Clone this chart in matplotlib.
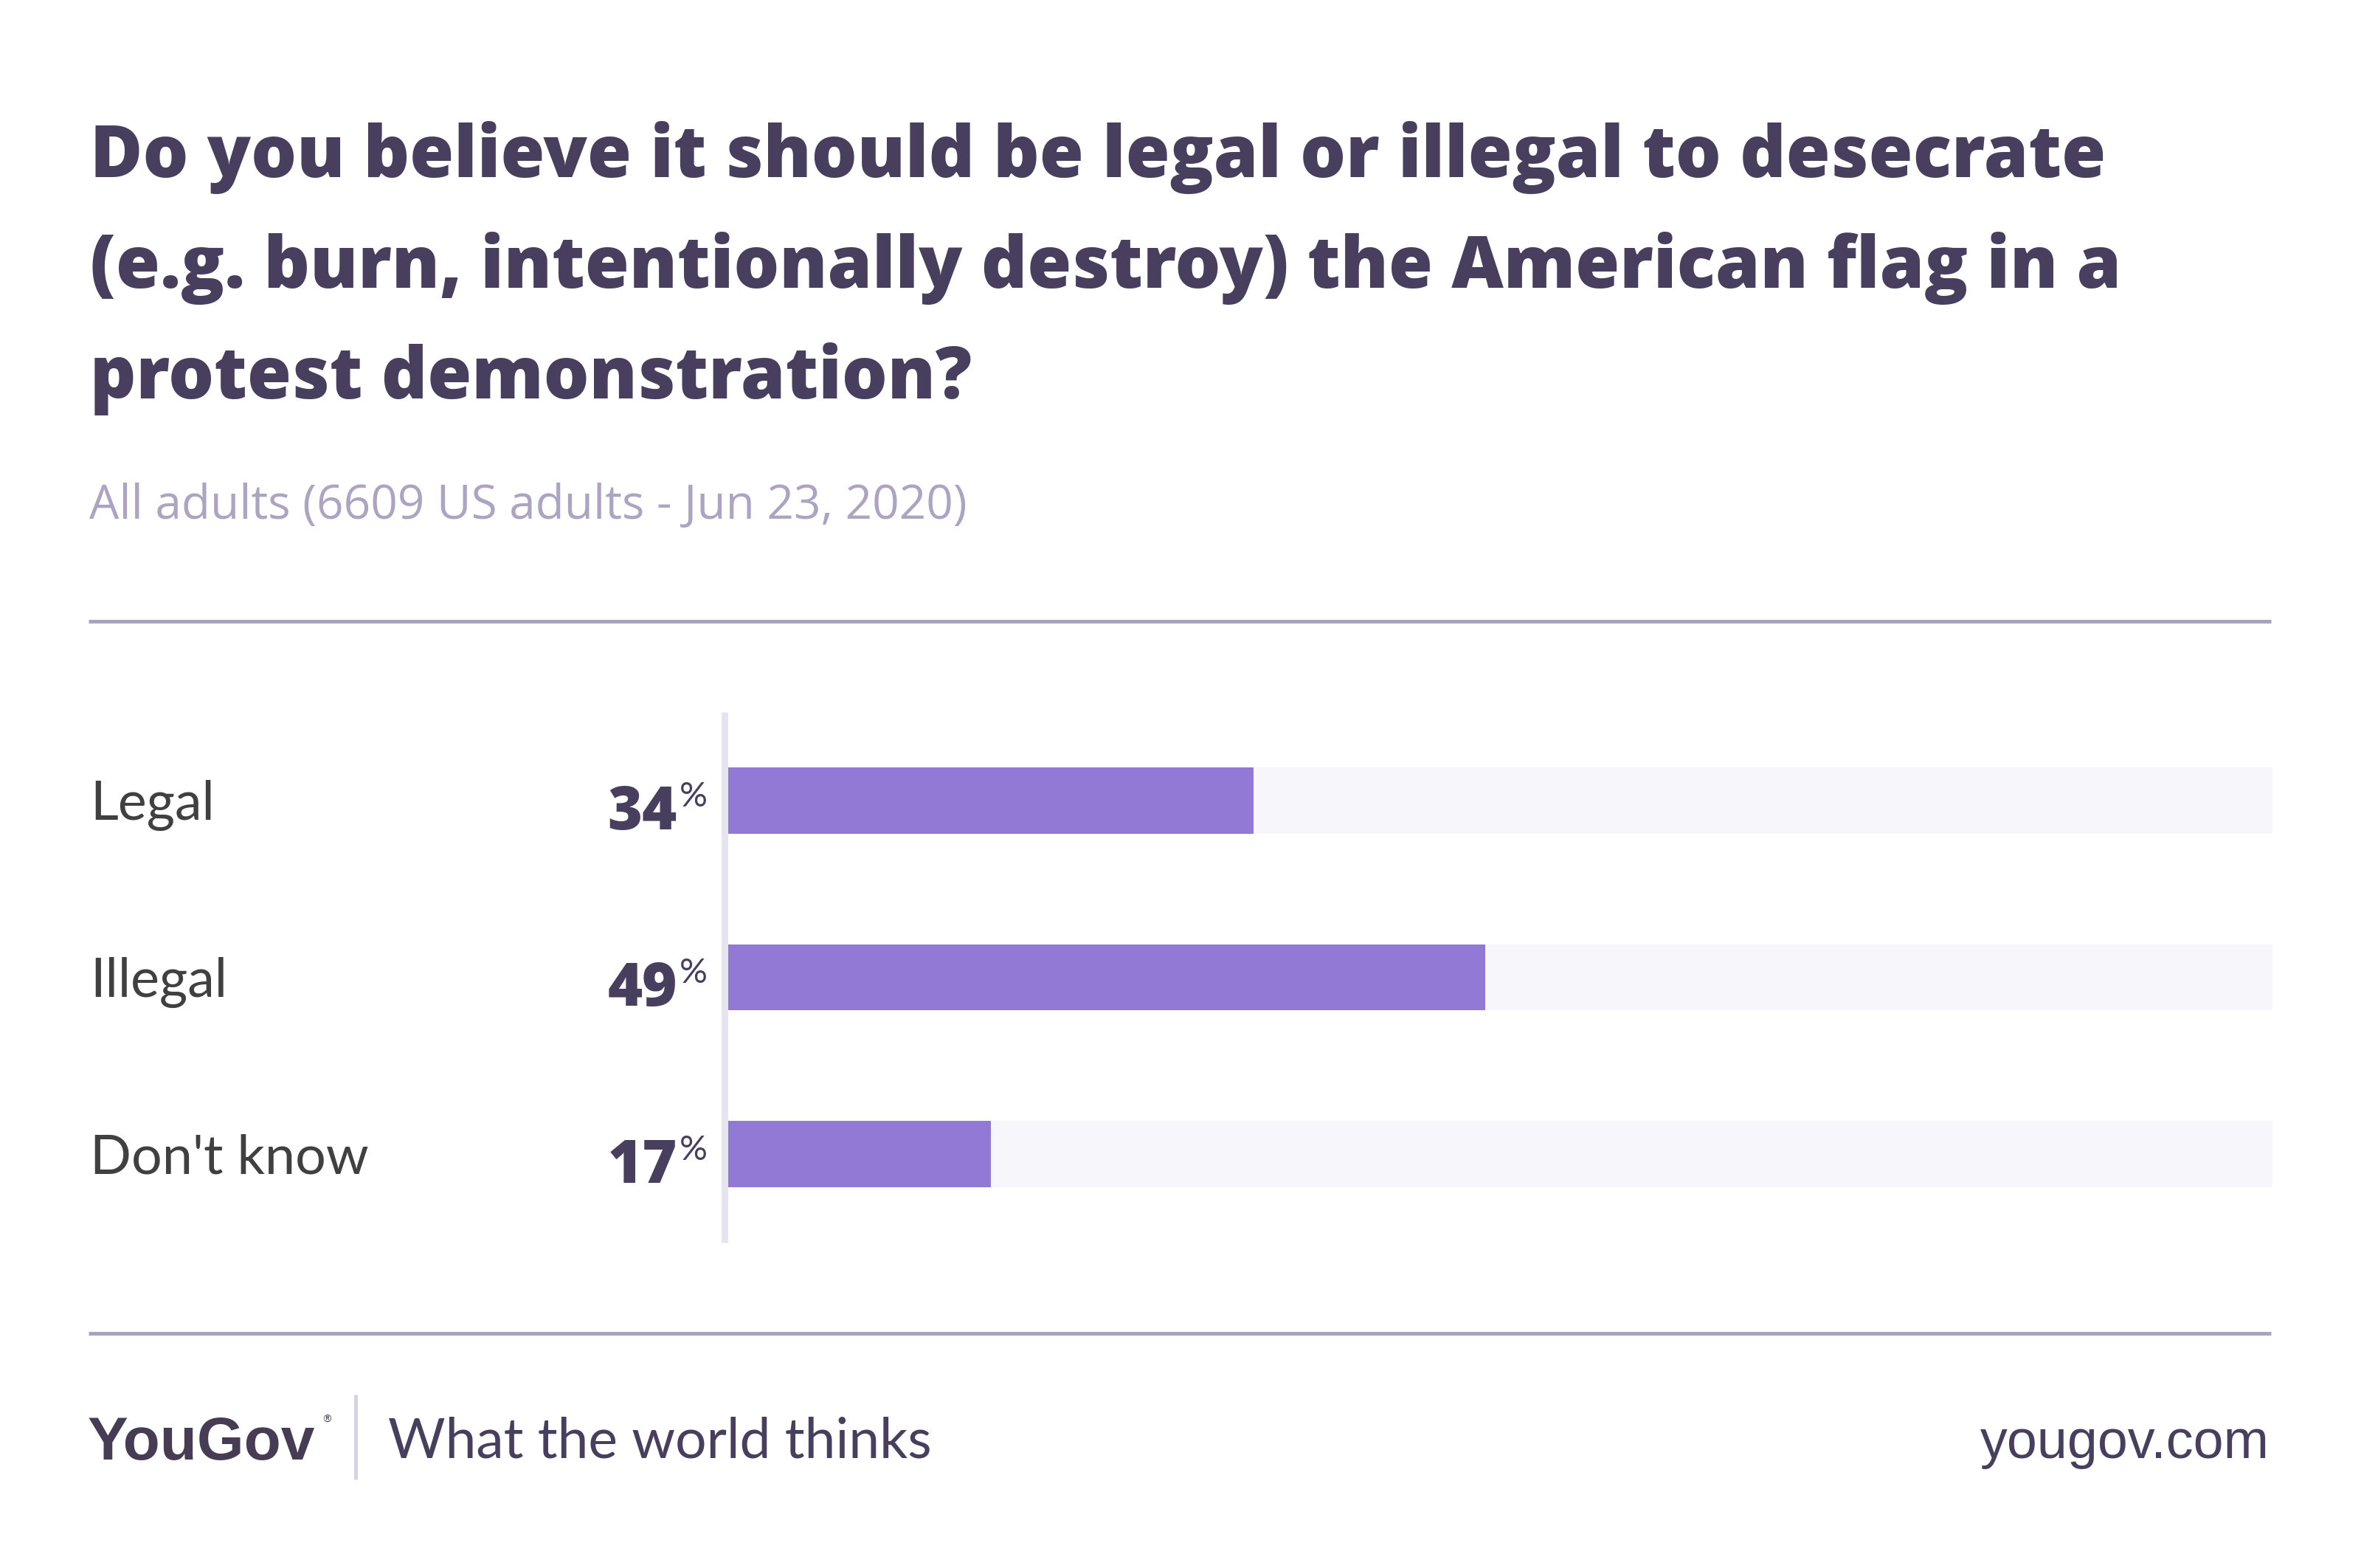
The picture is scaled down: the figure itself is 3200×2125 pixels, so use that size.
import matplotlib.pyplot as plt
from matplotlib.lines import Line2D
from matplotlib.transforms import blended_transform_factory

# data
categories = ['Legal', 'Illegal', "Don't know"]
values = [34, 49, 17]
title_lines = ['Do you believe it should be legal or illegal to desecrate',
               '(e.g. burn, intentionally destroy) the American flag in a',
               'protest demonstration?']
subtitle = 'All adults (6609 US adults - Jun 23, 2020)'

W, H = 3200, 2125
dark = '#483f5e'
bar_col = '#9179d5'
bg_col = '#f7f6fb'
rule_col = '#aaa3bf'


def fx(px):
    return px / W


def fy(py):
    return 1 - py / H


fig = plt.figure(figsize=(16, 10.625), dpi=200)
fig.patch.set_facecolor('white')

# title and subtitle
for i, line in enumerate(title_lines):
    fig.text(fx(122), fy(240 + 150 * i), line, fontsize=35, family='Open Sans',
             fontweight='heavy', color=dark, va='baseline', ha='left')
fig.text(fx(121), fy(703), subtitle, fontsize=23, family='Open Sans',
         color='#aca4c2', va='baseline', ha='left')

# rules
for y in (842, 1807):
    fig.add_artist(Line2D([fx(120), fx(3078)], [fy(y), fy(y)],
                          lw=1.8, color=rule_col, solid_capstyle='butt'))

# bars
ax = fig.add_axes([fx(987), fy(1684), fx(3080) - fx(987), (1684 - 965) / H])
pos = list(range(len(categories)))
ax.barh(pos, [100] * len(values), height=0.375, color=bg_col, lw=0)
ax.barh(pos, values, height=0.375, color=bar_col, lw=0)
ax.set_xlim(0, 100)
ax.set_ylim(2.5, -0.5)
ax.axis('off')

fig.add_artist(Line2D([fx(982), fx(982)], [fy(965), fy(1684)],
                      lw=3.2, color='#e6e4f2', solid_capstyle='butt'))

tr = blended_transform_factory(fig.transFigure, ax.transData)
for p, cat, v in zip(pos, categories, values):
    ax.text(fx(122), p + 0.108, cat, transform=tr, fontsize=26.5, family='Lato',
            color='#404040', va='baseline', ha='left')
    ax.text(fx(918), p + 0.1625, str(v), transform=tr, fontsize=29,
            family='Open Sans', fontweight='heavy', color=dark,
            va='baseline', ha='right')
    ax.text(fx(921), p + 0.033, '%', transform=tr, fontsize=17,
            family='Lato', color=dark, va='baseline', ha='left')

# footer
fig.text(fx(119), fy(1978), 'YouGov', fontsize=29.5, family='Liberation Sans',
         fontweight='bold', color='#463d55', va='baseline', ha='left')
fig.text(fx(436), fy(1928), '®', fontsize=5, family='DejaVu Sans',
         color='#463d55', va='baseline', ha='left')
fig.add_artist(Line2D([fx(482), fx(482)], [fy(1890), fy(2005)],
                      lw=1.8, color='#d6d3e6', solid_capstyle='butt'))
fig.text(fx(526), fy(1976), 'What the world thinks', fontsize=27,
         family='Lato', color=dark, va='baseline', ha='left')
fig.text(fx(3076), fy(1976), 'yougov.com', fontsize=26.5,
         family='Liberation Sans', color=dark, va='baseline', ha='right')

fig.savefig('out.png', dpi=200, facecolor='white')
